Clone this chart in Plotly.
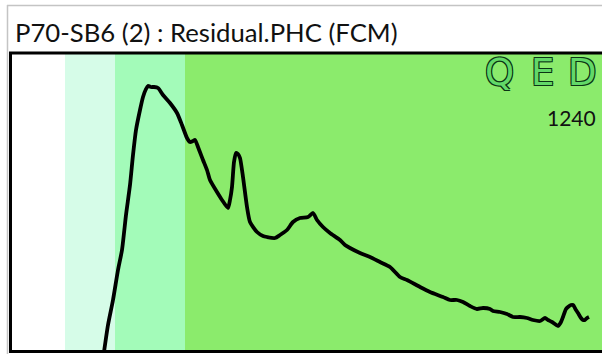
import plotly.graph_objects as go

# Chromatogram trace (arbitrary units)
x_vals = [92, 96, 101, 106, 110, 114, 118, 121, 124, 128, 131, 134, 136, 139, 142, 146, 151, 158, 165, 170,
          175, 178, 181, 183, 186, 191, 195, 198, 205, 210, 216, 218, 220, 222, 224, 226, 228, 231, 235, 238,
          245, 251, 255, 263, 268, 275, 281, 288, 296, 301, 305, 311, 318, 328, 333, 338, 348, 358, 368, 378,
          388, 395, 408, 418, 431, 438, 445, 451, 458, 465, 471, 478, 481, 488, 495, 501, 508, 515, 521, 528,
          533, 536, 540, 546, 549, 551, 554, 556, 559, 561, 564, 566, 569, 571, 573, 575, 577]
y_vals = [0, 27, 52, 82, 102, 137, 167, 197, 222, 242, 255, 263, 266, 265, 265, 264, 257, 249, 239, 227,
          214, 210, 211, 212, 205, 192, 182, 172, 160, 152, 144, 152, 165, 190, 199, 198, 194, 175, 145, 130,
          120, 116, 115, 114, 117, 122, 130, 134, 135, 139, 132, 125, 119, 112, 107, 104, 99, 95, 90, 85,
          75, 72, 65, 60, 55, 52, 52, 50, 46, 43, 44, 43, 41, 40, 38, 35, 35, 34, 32, 31,
          34, 32, 30, 26, 30, 35, 43, 45, 47, 47, 42, 39, 34, 32, 32, 34, 35]

# Background bands (start, end, colour)
band_starts = [0, 53, 103, 173]
band_ends = [53, 103, 173, 590]
band_colors = ["#ffffff", "#d6fce8", "#a3fbb9", "#8beb6c"]

title_text = "P70-SB6 (2) : Residual.PHC (FCM)"
number_label = "1240"
logo_letters = ["Q", "E", "D"]

X_MAX = 590
Y_MAX = 298

fig = go.Figure()
fig.add_trace(go.Scatter(x=x_vals, y=y_vals, mode="lines",
                         line=dict(color="black", width=3.8, shape="spline", smoothing=0.6),
                         hoverinfo="skip", showlegend=False))

shapes = []
for s, e, c in zip(band_starts, band_ends, band_colors):
    shapes.append(dict(type="rect", xref="x", yref="paper", x0=s, x1=e, y0=0, y1=1,
                       fillcolor=c, line=dict(width=0), layer="below"))

px = lambda p: (p - 12) / 590.0
py = lambda p: (352 - p) / 298.0

# outer grey frame: top and left edges
shapes.append(dict(type="line", xref="paper", yref="paper", x0=px(7), x1=px(610), y0=py(5.5), y1=py(5.5),
                   line=dict(color="#c4c4c4", width=1.5)))
shapes.append(dict(type="line", xref="paper", yref="paper", x0=px(7.5), x1=px(7.5), y0=py(360), y1=py(5),
                   line=dict(color="#c4c4c4", width=1.5)))
# black frame: top, left, bottom
shapes.append(dict(type="line", xref="paper", yref="paper", x0=px(9), x1=px(610), y0=py(53), y1=py(53),
                   line=dict(color="black", width=3)))
shapes.append(dict(type="line", xref="paper", yref="paper", x0=px(10.5), x1=px(10.5), y0=py(353), y1=py(52),
                   line=dict(color="black", width=3)))
shapes.append(dict(type="line", xref="paper", yref="paper", x0=px(9), x1=px(610), y0=py(351.5), y1=py(351.5),
                   line=dict(color="black", width=3)))

annotations = [
    dict(text=title_text, xref="paper", yref="paper", x=px(13), y=py(32), xanchor="left", yanchor="middle",
         showarrow=False, font=dict(family="Lato", size=25.7, color="#111111")),
    dict(text=number_label, xref="paper", yref="paper", x=px(598), y=py(117), xanchor="right", yanchor="middle",
         showarrow=False, font=dict(family="Lato", size=21, color="#111111")),
]
logo_x = [500, 542, 582]
outline = "#0b3314"
for letter, lx in zip(logo_letters, logo_x):
    annotations.append(dict(text=letter, xref="paper", yref="paper", x=px(lx), y=py(72),
                            xanchor="center", yanchor="middle", showarrow=False,
                            font=dict(family="DejaVu Sans", size=37, color="#62d868",
                                      shadow=f"-1px -1px 0 {outline}, 1px -1px 0 {outline}, -1px 1px 0 {outline}, 1px 1px 0 {outline}")))

fig.update_layout(
    width=602, height=354,
    margin=dict(l=12, r=0, t=54, b=2),
    paper_bgcolor="white", plot_bgcolor="white",
    xaxis=dict(range=[0, X_MAX], visible=False, fixedrange=True),
    yaxis=dict(range=[0, Y_MAX], visible=False, fixedrange=True),
    shapes=shapes, annotations=annotations,
    showlegend=False,
)

fig.write_html("out.html")
